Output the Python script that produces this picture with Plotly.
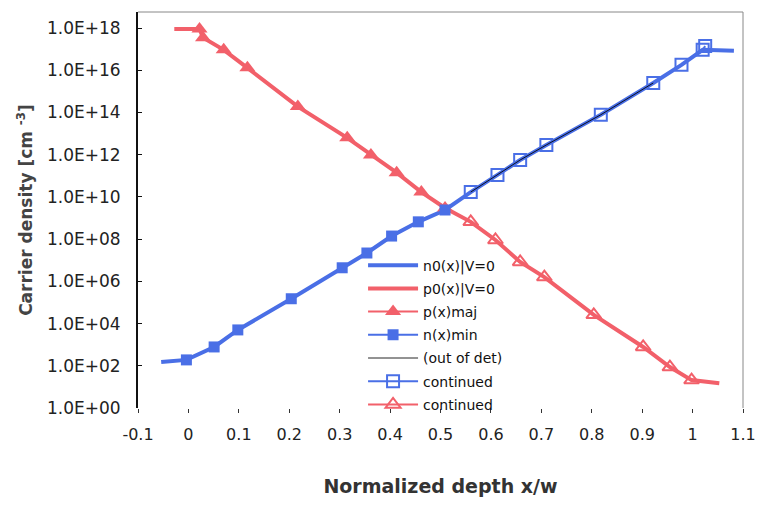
import plotly.graph_objects as go

# ---- data ----
# p0(x) | V=0  (red, thick)
p0_x = [-0.028, 0.022, 0.029, 0.070, 0.117, 0.217, 0.315, 0.362, 0.413, 0.462,
        0.509, 0.560, 0.609, 0.658, 0.706, 0.804, 0.902, 0.955, 0.998, 1.053]
p0_y = [9.1e17, 9.1e17, 3.5e17, 9.3e16, 1.3e16, 1.9e14, 6.3e12, 9.8e11, 1.4e11, 1.7e10,
        3.0e9, 6.6e8, 9.1e7, 8.3e6, 1.6e6, 2.6e4, 7.8e2, 8.7e1, 2.1e1, 1.5e1]

# n0(x) | V=0  (blue, thick)
n0_x = [-0.054, -0.004, 0.051, 0.098, 0.204, 0.305, 0.354, 0.403, 0.456, 0.509,
        0.560, 0.613, 0.658, 0.710, 0.818, 0.922, 0.978, 1.020, 1.082]
n0_y = [1.5e2, 1.9e2, 7.8e2, 5.0e3, 1.5e5, 4.4e6, 2.2e7, 1.4e8, 6.6e8, 2.4e9,
        1.7e10, 1.1e11, 5.6e11, 2.9e12, 7.8e13, 2.5e15, 1.8e16, 9.3e16, 8.3e16]

# p(x) maj  (filled red triangles)
pmaj_x = [0.022, 0.029, 0.070, 0.117, 0.217, 0.315, 0.362, 0.413, 0.462, 0.509]
pmaj_y = [9.1e17, 3.5e17, 9.3e16, 1.3e16, 1.9e14, 6.3e12, 9.8e11, 1.4e11, 1.7e10, 3.0e9]

# n(x) min  (filled blue squares)
nmin_x = [-0.004, 0.051, 0.098, 0.204, 0.305, 0.354, 0.403, 0.456, 0.509]
nmin_y = [1.9e2, 7.8e2, 5.0e3, 1.5e5, 4.4e6, 2.2e7, 1.4e8, 6.6e8, 2.4e9]

# (out of det)  (thin black)
out_x = [0.560, 0.613, 0.658, 0.710, 0.818, 0.922]
out_y = [1.7e10, 1.1e11, 5.6e11, 2.9e12, 7.8e13, 2.5e15]

# continued (open blue squares)
cn_x = [0.560, 0.613, 0.658, 0.710, 0.818, 0.922, 0.978, 1.020, 1.025]
cn_y = [1.7e10, 1.1e11, 5.6e11, 2.9e12, 7.8e13, 2.5e15, 1.8e16, 9.3e16, 1.4e17]

# continued (open red triangles)
cp_x = [0.560, 0.609, 0.658, 0.706, 0.804, 0.902, 0.955, 0.998]
cp_y = [6.6e8, 9.1e7, 8.3e6, 1.6e6, 2.6e4, 7.8e2, 8.7e1, 2.1e1]

x_ticks = [-0.1, 0, 0.1, 0.2, 0.3, 0.4, 0.5, 0.6, 0.7, 0.8, 0.9, 1.0, 1.1]
x_labels = ["-0.1", "0", "0.1", "0.2", "0.3", "0.4", "0.5", "0.6", "0.7", "0.8", "0.9", "1", "1.1"]
y_ticks = [1e0, 1e2, 1e4, 1e6, 1e8, 1e10, 1e12, 1e14, 1e16, 1e18]
y_labels = ["1.0E+00", "1.0E+02", "1.0E+04", "1.0E+06", "1.0E+08",
            "1.0E+10", "1.0E+12", "1.0E+14", "1.0E+16", "1.0E+18"]

BLUE = "#4a6fe6"
RED = "#f2606a"

fig = go.Figure()
fig.add_trace(go.Scatter(x=n0_x, y=n0_y, mode="lines", name="n0(x)|V=0", legendgroup="a",
                         line=dict(color=BLUE, width=4), legendrank=1))
fig.add_trace(go.Scatter(x=p0_x, y=p0_y, mode="lines", name="p0(x)|V=0", legendgroup="b",
                         line=dict(color=RED, width=4), legendrank=2))
fig.add_trace(go.Scatter(x=pmaj_x, y=pmaj_y, mode="lines+markers", name="p(x)maj", legendgroup="c",
                         line=dict(color=RED, width=2),
                         marker=dict(symbol="triangle-up", size=14, color=RED), legendrank=3))
fig.add_trace(go.Scatter(x=nmin_x, y=nmin_y, mode="lines+markers", name="n(x)min", legendgroup="d",
                         line=dict(color=BLUE, width=2),
                         marker=dict(symbol="square", size=11, color=BLUE), legendrank=4))
fig.add_trace(go.Scatter(x=cn_x, y=cn_y, mode="lines+markers", name="continued", legendgroup="f",
                         line=dict(color=BLUE, width=2),
                         marker=dict(symbol="square-open", size=12, color=BLUE,
                                     line=dict(width=2, color=BLUE)), legendrank=6))
fig.add_trace(go.Scatter(x=cp_x, y=cp_y, mode="lines+markers", name="continued ", legendgroup="g",
                         line=dict(color=RED, width=2),
                         marker=dict(symbol="triangle-up-open", size=13, color=RED,
                                     line=dict(width=2, color=RED)), legendrank=7))
fig.add_trace(go.Scatter(x=out_x, y=out_y, mode="lines", name="(out of det)", legendgroup="e",
                         line=dict(color="rgba(0,0,0,0.85)", width=1), legendrank=5))

FONT = "DejaVu Sans, Verdana, sans-serif"

fig.update_layout(
    width=768, height=506,
    margin=dict(l=138, r=13, t=12, b=98),
    paper_bgcolor="white", plot_bgcolor="white",
    font=dict(family=FONT, size=14, color="#222"),
    showlegend=True,
    legend=dict(x=0.372, y=0.4, xanchor="left", yanchor="top",
                bgcolor="rgba(0,0,0,0)", font=dict(size=14, color="#111"),
                tracegroupgap=2, itemwidth=50),
    xaxis=dict(range=[-0.1, 1.1], tickvals=x_ticks, ticktext=x_labels,
               showgrid=False, zeroline=False, showline=False,
               ticks="outside", ticklen=4, tickcolor="#333",
               tickfont=dict(size=16, color="#222"),
               ticklabelstandoff=8,
               title=dict(text="<b>Normalized depth x/w</b>", font=dict(size=19, color="#333"),
                          standoff=36)),
    yaxis=dict(type="log", range=[0, 18.76], tickvals=y_ticks, ticktext=y_labels,
               showgrid=False, zeroline=False, showline=True, linecolor="#111", linewidth=2,
               ticks="inside", ticklen=4, tickcolor="#111",
               tickfont=dict(size=17, color="#222"),
               ticklabelstandoff=12,
               title=dict(text="<b>Carrier density [cm <sup>-3</sup>]</b>",
                          font=dict(size=17, color="#444"), standoff=10)),
    shapes=[
        dict(type="line", xref="paper", yref="paper", x0=0, y0=1, x1=1, y1=1,
             line=dict(color="#888", width=1)),
        dict(type="line", xref="paper", yref="paper", x0=1, y0=0, x1=1, y1=1,
             line=dict(color="#888", width=1)),
    ],
)

fig.write_html("out.html")
